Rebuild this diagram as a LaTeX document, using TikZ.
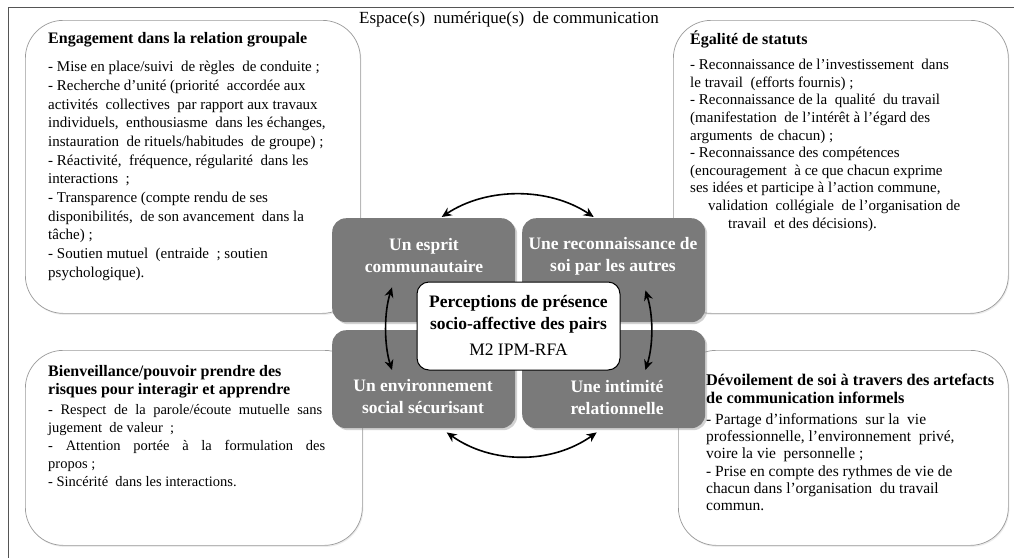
\documentclass[tikz,border=0pt]{standalone}
\usepackage{fontspec}
\setmainfont{Liberation Serif}
\usetikzlibrary{arrows.meta,shadows}
\definecolor{boxgray}{HTML}{7A7A7A}
\definecolor{edgegray}{HTML}{9A9A9A}
\definecolor{framegray}{HTML}{555555}
\begin{document}
\begin{tikzpicture}[x=1pt,y=-1pt,
  wbox/.style={draw=edgegray, line width=0.7pt, fill=white, rounded corners=38pt, anchor=north west, inner sep=0pt,
     drop shadow={opacity=0.15, shadow xshift=1pt, shadow yshift=-1.5pt}},
  gbox/.style={fill=boxgray, rounded corners=14pt, anchor=north west, inner sep=0pt,
     drop shadow={opacity=0.35, shadow xshift=2pt, shadow yshift=-2pt}},
  gtext/.style={text=white, align=center, font=\fontsize{17.5}{22}\selectfont\bfseries, inner sep=0pt},
  headtext/.style={anchor=north west, inner sep=0pt, align=left, font=\fontsize{16}{18}\selectfont\bfseries},
  bodytext/.style={anchor=north west, inner sep=0pt, align=left},
  biarrow/.style={{Stealth[length=10pt,width=9pt]}-{Stealth[length=10pt,width=9pt]}, line width=1.6pt, black}
]
\useasboundingbox (0,0) rectangle (1014,557);
\fill[white] (0,0) rectangle (1014,557);
% outer frame
\draw[framegray, line width=0.9pt] (8,575) -- (8,7) -- (1030,7);
\node[font=\fontsize{17}{18}\selectfont, inner sep=0pt] (title) at (509,19) {Espace(s)\ \ numérique(s)\ \ de communication};

% white boxes
\node[wbox, minimum width=335pt, minimum height=293pt] (tlw) at (25,20) {};
\node[wbox, minimum width=335pt, minimum height=293pt] (trw) at (673,20) {};
\node[wbox, minimum width=337pt, minimum height=195pt] (blw) at (25,350) {};
\node[wbox, minimum width=330pt, minimum height=195pt] (brw) at (678,350) {};

% top-left text
\node[headtext] (tlh) at (48,32) {Engagement dans la relation groupale};
\node[bodytext, font=\fontsize{15}{18.7}\selectfont] (tlb) at (48,61) {%
- Mise en place/suivi\ \ de règles\ \ de conduite ;\\
- Recherche d’unité (priorité\ \ accordée aux\\
activités\ \ collectives\ \ par rapport aux travaux\\
individuels,\ \ enthousiasme\ \ dans les échanges,\\
instauration\ \ de rituels/habitudes\ \ de groupe) ;\\
- Réactivité,\ \ fréquence, régularité\ \ dans les\\
interactions\ \ ;\\
- Transparence (compte rendu de ses\\
disponibilités,\ \ de son avancement\ \ dans la\\
tâche) ;\\
- Soutien mutuel\ \ (entraide\ \ ; soutien\\
psychologique).};

% top-right text
\node[headtext] (trh) at (690,31) {Égalité de statuts};
\node[bodytext, font=\fontsize{15}{17.6}\selectfont] (trb) at (690,59) {%
- Reconnaissance de l’investissement\ \ dans\\
le travail\ \ (efforts fournis) ;\\
- Reconnaissance de la\ \ qualité\ \ du travail\\
(manifestation\ \ de l’intérêt à l’égard des\\
arguments\ \ de chacun) ;\\
- Reconnaissance des compétences\\
(encouragement\ \ à ce que chacun exprime\\
ses idées et participe à l’action commune,\\
\hspace*{18pt}validation\ \ collégiale\ \ de l’organisation de\\
\hspace*{38pt}travail\ \ et des décisions).};

% bottom-left text
\node[headtext] (blh) at (48,365) {Bienveillance/pouvoir prendre des\\risques pour interagir et apprendre};
\node[bodytext, font=\fontsize{14.5}{18}\selectfont] (blb) at (48,404) {%
\makebox[274pt][s]{- Respect de la parole/écoute mutuelle sans}\\
jugement\ \ de valeur\ \ ;\\
\makebox[277pt][s]{- Attention portée à la formulation des}\\
propos ;\\
- Sincérité\ \ dans les interactions.};

% bottom-right text
\node[headtext, font=\fontsize{16.3}{17.5}\selectfont\bfseries] (brh) at (706,374) {Dévoilement de soi à travers des artefacts\\de communication informels};
\node[bodytext, font=\fontsize{15.5}{17.3}\selectfont] (brb) at (706,413) {%
- Partage d’informations\ \ sur la\ \ vie\\
professionnelle, l’environnement\ \ privé,\\
voire la vie\ \ personnelle ;\\
- Prise en compte des rythmes de vie de\\
chacun dans l’organisation\ \ du travail\\
commun.};

% gray boxes
\node[gbox, minimum width=183pt, minimum height=104pt] (tl) at (332,218) {};
\node[gbox, minimum width=183pt, minimum height=104pt] (tr) at (522,218) {};
\node[gbox, minimum width=183pt, minimum height=98pt] (bl) at (332,330) {};
\node[gbox, minimum width=183pt, minimum height=98pt] (br) at (522,330) {};
\node[gtext] (tlt) at (424,256) {Un esprit\\communautaire};
\node[gtext] (trt) at (613,256) {Une reconnaissance de\\soi par les autres};
\node[gtext] (blt) at (423,397) {Un environnement\\social sécurisant};
\node[gtext] (brt) at (617,397) {Une intimité\\relationnelle};

% central box
\node[draw=black, line width=1pt, fill=white, rounded corners=12pt, minimum width=203pt, minimum height=88pt, inner sep=0pt] (center) at (518.5,326) {};
\node[align=center, inner sep=0pt, font=\fontsize{17.5}{22}\selectfont] (ctext) at (518.5,325) {{\bfseries Perceptions de présence}\\{\bfseries socio-affective des pairs}\\[4pt]M2 IPM-RFA};

% arrows
\coordinate (t1) at ([xshift=18pt,yshift=1pt]tl.north);
\coordinate (t2) at ([xshift=-20pt,yshift=1pt]tr.north);
\draw[biarrow] (t1) .. controls +(45,-30) and +(-45,-30) .. (t2);
\coordinate (b1) at ([xshift=23pt,yshift=-4pt]bl.south);
\coordinate (b2) at ([xshift=-17pt,yshift=-4pt]br.south);
\draw[biarrow] (b1) .. controls +(45,32) and +(-45,32) .. (b2);
\coordinate (l1) at ([xshift=60pt,yshift=35pt]tl.south west);
\coordinate (l2) at ([xshift=60pt,yshift=-40pt]bl.north west);
\draw[biarrow] (l1) .. controls +(-8,25) and +(-8,-25) .. (l2);
\coordinate (r1) at ([xshift=-60pt,yshift=32pt]tr.south east);
\coordinate (r2) at ([xshift=-60pt,yshift=-40pt]br.north east);
\draw[biarrow] (r1) .. controls +(8,25) and +(8,-25) .. (r2);
\end{tikzpicture}
\end{document}
